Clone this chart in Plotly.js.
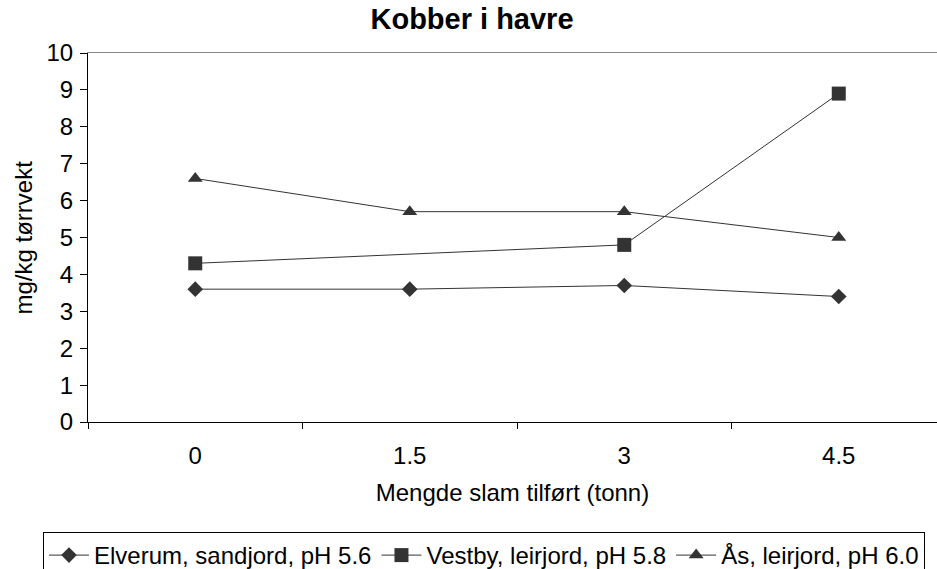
<!DOCTYPE html>
<html>
<head>
<meta charset="utf-8">
<script src="https://cdn.plot.ly/plotly-3.0.1.min.js"></script>
<style>html,body{margin:0;padding:0;background:#fff;}#chart{width:937px;height:569px;}</style>
</head>
<body>
<div id="chart"></div>
<script>
const categories = ["0", "1.5", "3", "4.5"];
const elverum = [3.6, 3.6, 3.7, 3.4];
const vestby = [4.3, null, 4.8, 8.9];
const aas = [6.6, 5.7, 5.7, 5.0];
const seriesNames = ["Elverum, sandjord, pH 5.6", "Vestby, leirjord, pH 5.8", "Ås, leirjord, pH 6.0"];
const yTicks = [0,1,2,3,4,5,6,7,8,9,10];
const yTitle = 'mg/kg tørrvekt';

const ink = '#333333';
const font = 'Liberation Sans, Arial, sans-serif';
function tr(y, name, symbol, size) {
  return {
    x: categories, y: y, name: name, type: 'scatter', mode: 'lines+markers',
    connectgaps: true,
    line: {color: ink, width: 1},
    marker: {symbol: symbol, size: size, color: ink},
    xaxis: 'x', yaxis: 'y'
  };
}
const data = [
  tr(elverum, seriesNames[0], 'diamond', 12),
  tr(vestby, seriesNames[1], 'square', 14),
  tr(aas, seriesNames[2], 'triangle-up', 13)
];
data.push({x: categories, y: [null, null, null, null], xaxis: 'x2', yaxis: 'y', showlegend: false, hoverinfo: 'skip', mode: 'lines'});

const layout = {
  width: 937, height: 569,
  margin: {l: 88, r: 0, t: 53, b: 147, autoexpand: false},
  paper_bgcolor: '#fff', plot_bgcolor: '#fff',
  font: {family: font, size: 24, color: '#000'},
  title: {text: '<b>Kobber i havre</b>', font: {family: font, size: 29, color: '#000'}, x: 472/937, xref: 'container', xanchor: 'center', y: 0.966, yref: 'container', yanchor: 'middle'},
  xaxis: {
    type: 'category', range: [-0.5, 3.458],
    tickson: 'boundaries', ticks: 'outside', ticklen: 6, tickcolor: '#000',
    showline: true, linecolor: '#000', linewidth: 1, showgrid: false, zeroline: false,
    tickfont: {size: 24}, ticklabelstandoff: 12, fixedrange: true,
    title: {text: 'Mengde slam tilført (tonn)', font: {size: 24}, standoff: 16}
  },
  xaxis2: {
    overlaying: 'x', side: 'top', matches: 'x', type: 'category',
    showline: true, linecolor: '#888', linewidth: 1, showticklabels: false, ticks: '', showgrid: false
  },
  yaxis: {
    range: [0, 10], tickvals: yTicks, ticks: 'outside', ticklen: 7, tickcolor: '#000',
    showline: true, linecolor: '#000', linewidth: 1, showgrid: false, zeroline: false,
    tickfont: {size: 24}, ticklabelstandoff: 2
  },
  annotations: [{
    text: yTitle, xref: 'paper', yref: 'paper', x: (23 - 88) / 849, y: 0.5,
    xanchor: 'center', yanchor: 'middle', textangle: -90, showarrow: false,
    font: {family: font, size: 24, color: '#000'}
  }],
  showlegend: true,
  legend: {
    orientation: 'h', x: (43 - 88) / 849, xanchor: 'left', xref: 'paper',
    y: (422 - 532) / 369, yanchor: 'top',
    bordercolor: '#000', borderwidth: 1, bgcolor: '#fff',
    font: {size: 24}, itemwidth: 40, tracegroupgap: 0
  }
};
Plotly.newPlot('chart', data, layout, {staticPlot: true});
</script>
</body>
</html>
